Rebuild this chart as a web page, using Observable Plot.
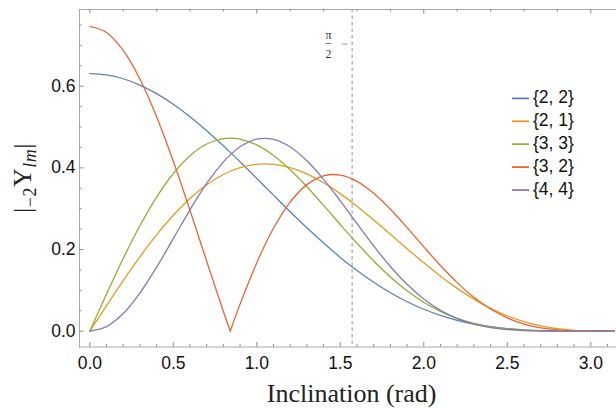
<!DOCTYPE html>
<html><head><meta charset="utf-8">
<script src="https://cdn.jsdelivr.net/npm/d3@7"></script>
<script src="https://cdn.jsdelivr.net/npm/@observablehq/plot@0.6"></script>
<style>body{margin:0;background:#fff}svg{display:block}</style>
</head><body><div id="chart"></div>
<script>
// Inclination samples (rad); 0.841 is where {3,2} touches zero
const theta = [0,0.1,0.2,0.3,0.4,0.5,0.6,0.7,0.8,0.841,0.9,1.0,1.1,1.2,1.3,1.4,1.5,1.6,1.7,1.8,1.9,2.0,2.1,2.2,2.3,2.4,2.5,2.6,2.7,2.8,2.9,3.0,3.1,3.1416];
const y22 = [0.6308,0.6276,0.6183,0.6029,0.5820,0.5559,0.5254,0.4912,0.4540,0.4380,0.4147,0.3741,0.3332,0.2927,0.2533,0.2159,0.1808,0.1486,0.1197,0.0942,0.0722,0.0538,0.0387,0.0267,0.0176,0.0109,0.0062,0.0032,0.0015,0.0005,0.0001,0,0,0];
const y21 = [0,0.0628,0.1241,0.1822,0.2359,0.2839,0.3251,0.3586,0.3839,0.3918,0.4006,0.4088,0.4086,0.4005,0.3852,0.3636,0.3369,0.3061,0.2725,0.2374,0.2020,0.1674,0.1348,0.1049,0.0785,0.0559,0.0375,0.0233,0.0129,0.0061,0.0022,0.0004,0,0];
const y33 = [0,0.0908,0.1780,0.2582,0.3284,0.3862,0.4299,0.4585,0.4719,0.4731,0.4707,0.4562,0.4303,0.3953,0.3538,0.3083,0.2613,0.2153,0.1720,0.1329,0.0990,0.0708,0.0484,0.0313,0.0190,0.0106,0.0054,0.0024,0.0009,0.0003,0,0,0,0];
const y32 = [0.7464,0.7315,0.6878,0.6178,0.5255,0.4162,0.2959,0.1712,0.0484,0,0.0663,0.1678,0.2520,0.3162,0.3590,0.3806,0.3824,0.3671,0.3379,0.2988,0.2538,0.2066,0.1608,0.1190,0.0831,0.0542,0.0325,0.0175,0.0081,0.0030,0.0008,0.0001,0,0];
const y44 = [0,0.0111,0.0433,0.0935,0.1566,0.2268,0.2973,0.3618,0.4146,0.4319,0.4516,0.4702,0.4697,0.4513,0.4175,0.3720,0.3193,0.2636,0.2089,0.1585,0.1148,0.0789,0.0511,0.0310,0.0173,0.0088,0.0040,0.0015,0.0005,0.0001,0,0,0,0];
const labels = ["{2, 2}","{2, 1}","{3, 3}","{3, 2}","{4, 4}"];
const colors = ["#5E81B5","#E19C24","#8FB032","#EB6235","#8778B3"];
const markers = [Math.PI/2];
const xMajor = [0,0.5,1,1.5,2,2.5,3];
const xMinor = [0.1,0.2,0.3,0.4,0.6,0.7,0.8,0.9,1.1,1.2,1.3,1.4,1.6,1.7,1.8,1.9,2.1,2.2,2.3,2.4,2.6,2.7,2.8,2.9,3.1];
const xTopMajor = [0,1,2,3];
const xTopMinor = [0.2,0.4,0.6,0.8,1.2,1.4,1.6,1.8,2.2,2.4,2.6,2.8];
const yMajor = [0,0.2,0.4,0.6];
const yMinor = [0.05,0.1,0.15,0.25,0.3,0.35,0.45,0.5,0.55,0.65,0.7,0.75];

const series = [y22,y21,y33,y32,y44];
const rows = [];
series.forEach((vals,i)=>{
  const key = labels[i];
  const cusp = vals.findIndex((v,j)=> v===0 && j>0 && j<vals.length-1 && vals[j-1]>0 && vals[j+1]>0);
  vals.forEach((v,j)=>{
    if (cusp < 0) rows.push({x:theta[j], y:v, key, seg:key});
    else {
      if (j<=cusp) rows.push({x:theta[j], y:v, key, seg:key+"a"});
      if (j>=cusp) rows.push({x:theta[j], y:v, key, seg:key+"b"});
    }
  });
});

const W=616, H=408, mL=79, mR=0, mT=9, mB=61.5;
const innerW=W-mL-mR, innerH=H-mT-mB;
const frameColor="#a8a8a8", tickColor="#8a8a8a";
const fmt = d3.format(".1f");

const chart = Plot.plot({
  width:W, height:H, marginLeft:mL, marginRight:mR, marginTop:mT, marginBottom:mB,
  x:{domain:[-0.0617,3.154]},
  y:{domain:[-0.0387,0.7879]},
  color:{domain:labels, range:colors},
  style:{fontFamily:"'Liberation Sans', Arial, sans-serif", fontSize:"17.5px", color:"#111", background:"#fff", overflow:"visible"},
  marks:[
    Plot.ruleX(markers,{x:d=>d, stroke:"#777", strokeWidth:0.8, strokeDasharray:"3.5,3"}),
    Plot.line(rows,{x:"x", y:"y", z:"seg", stroke:"key", strokeWidth:1.3, curve:"catmull-rom"}),
    Plot.frame({anchor:"left", stroke:frameColor}),
    Plot.frame({anchor:"top", stroke:frameColor}),
    Plot.frame({anchor:"bottom", stroke:frameColor}),
    Plot.ruleX(xMajor,{x:d=>d, insetTop:innerH-4.5, stroke:tickColor}),
    Plot.ruleX(xMinor,{x:d=>d, insetTop:innerH-2.5, stroke:tickColor}),
    Plot.ruleX(xTopMajor,{x:d=>d, insetBottom:innerH-4.5, stroke:tickColor}),
    Plot.ruleX(xTopMinor,{x:d=>d, insetBottom:innerH-2.5, stroke:tickColor}),
    Plot.ruleY(yMajor,{y:d=>d, insetRight:innerW-4.5, stroke:tickColor}),
    Plot.ruleY(yMinor,{y:d=>d, insetRight:innerW-2.5, stroke:tickColor}),
    Plot.axisX({ticks:xMajor, tickSize:0, tickPadding:9.5, tickFormat:fmt, label:null}),
    Plot.axisY({ticks:yMajor, tickSize:0, tickPadding:4, tickFormat:fmt, label:null})
  ]
});
document.getElementById("chart").append(chart);

const svg = d3.select(chart);
const sx = chart.scale("x");
const px = sx.apply(markers[0]);

// pi/2 annotation
const ann = svg.append("g").attr("font-family","'Liberation Serif', serif").attr("font-size",12).attr("fill","#333").attr("text-anchor","middle");
ann.append("text").attr("x",px-23).attr("y",38.5).text("π");
ann.append("line").attr("x1",px-25.8).attr("x2",px-20.4).attr("y1",43.5).attr("y2",43.5).attr("stroke","#444").attr("stroke-width",0.7);
ann.append("text").attr("x",px-23).attr("y",58.3).text("2");
ann.append("line").attr("x1",px-10).attr("x2",px-4).attr("y1",44).attr("y2",44).attr("stroke","#888").attr("stroke-width",0.8);

// legend
const lg = svg.append("g").attr("font-family","'Liberation Sans', Arial, sans-serif").attr("font-size",17.5).attr("fill","#111").attr("text-anchor","start");
labels.forEach((lab,i)=>{
  const yy = 98.4 + i*22.9;
  lg.append("line").attr("x1",512).attr("x2",529).attr("y1",yy).attr("y2",yy).attr("stroke",colors[i]).attr("stroke-width",1.8);
  lg.append("text").attr("x",533).attr("y",yy+4.8).text(lab);
});

// x label
svg.append("text").attr("x",px).attr("y",401.5).attr("text-anchor","middle")
  .attr("font-family","'Liberation Serif', serif").attr("font-size",26).attr("fill","#222").text("Inclination (rad)");

// y label
const yl = svg.append("text").attr("transform","translate(31,178) rotate(-90)").attr("text-anchor","middle")
  .attr("font-family","'Liberation Serif', serif").attr("font-size",26).attr("fill","#222").attr("letter-spacing",0.5);
yl.append("tspan").text("|");
yl.append("tspan").attr("font-size",18).attr("dy",5).text("−2");
yl.append("tspan").attr("dy",-5).text("Y");
yl.append("tspan").attr("font-size",18).attr("font-style","italic").attr("dy",5).text("lm");
yl.append("tspan").attr("dy",-5).text("|");
</script>
</body></html>
